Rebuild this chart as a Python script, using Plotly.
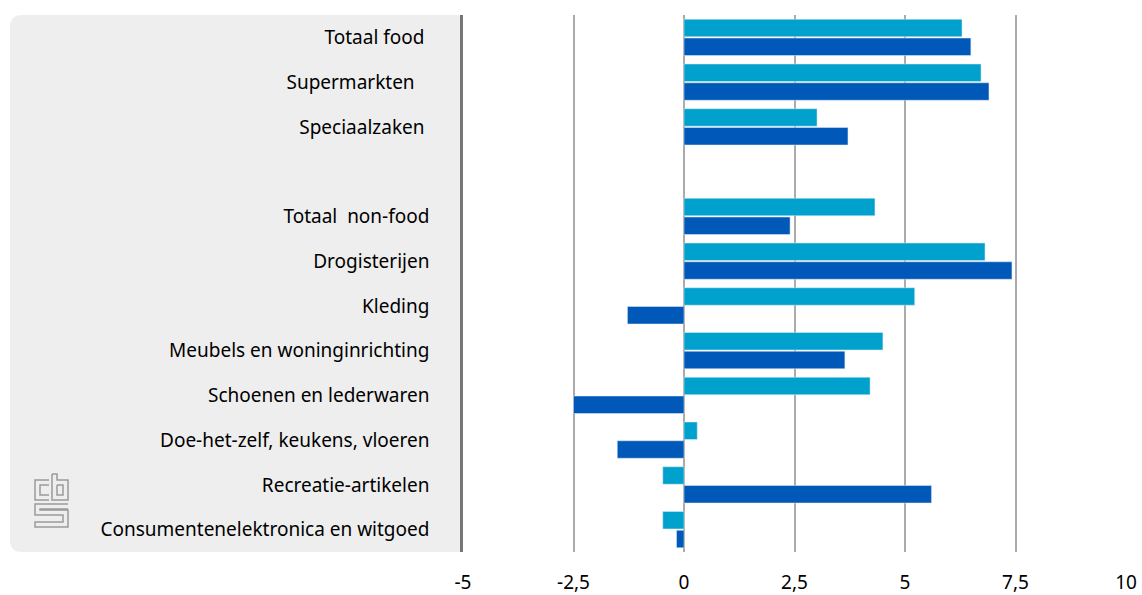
import plotly.graph_objects as go

categories = [
    "Totaal food\u00a0", "Supermarkten\u00a0\u00a0\u00a0", "Speciaalzaken\u00a0", " ",
    "Totaal  non-food", "Drogisterijen", "Kleding",
    "Meubels en woninginrichting", "Schoenen en lederwaren",
    "Doe-het-zelf, keukens, vloeren", "Recreatie-artikelen",
    "Consumentenelektronica en witgoed",
]
series_a = [6.29, 6.72, 3.01, None, 4.32, 6.81, 5.22, 4.50, 4.21, 0.30, -0.48, -0.48]
series_b = [6.49, 6.90, 3.71, None, 2.40, 7.42, -1.28, 3.64, -2.50, -1.51, 5.60, -0.17]
x_tickvals = [-5, -2.5, 0, 2.5, 5, 7.5, 10]
x_ticktext = ["-5", "-2,5", "0", "2,5", "5", "7,5", "10"]

LIGHT = "#00A1CD"
DARK = "#0058B8"
FONT = "Noto Sans"

W, H = 1142, 595
L, R, T, B = 463, 16, 15, 43
pw, ph = W - L - R, H - T - B

def px(x):
    return (x - L) / pw

def py(y):
    return (H - B - y) / ph

fig = go.Figure()
fig.add_trace(go.Bar(y=categories, x=series_a, orientation="h", marker_color=LIGHT,
                     name="Reeks 1", showlegend=False))
fig.add_trace(go.Bar(y=categories, x=series_b, orientation="h", marker_color=DARK,
                     name="Reeks 2", showlegend=False))

shapes = []
r = 12
x0, x1, y0, y1 = 10, 463, 15, 552
path = (f"M {px(x1)},{py(y0)} L {px(x0 + r)},{py(y0)} "
        f"Q {px(x0)},{py(y0)} {px(x0)},{py(y0 + r)} "
        f"L {px(x0)},{py(y1 - r)} Q {px(x0)},{py(y1)} {px(x0 + r)},{py(y1)} "
        f"L {px(x1)},{py(y1)} Z")
shapes.append(dict(type="path", xref="paper", yref="paper", path=path,
                   fillcolor="#EEEEEE", line=dict(width=0), layer="below"))

lc = "#9A9A9A"
def seg(pts):
    d = "M " + " L ".join(f"{px(a)},{py(b)}" for a, b in pts)
    shapes.append(dict(type="path", xref="paper", yref="paper", path=d,
                       line=dict(color=lc, width=1.5)))
# c
seg([(49, 480), (35, 480), (35, 500), (49, 500)])
seg([(49, 485), (40, 485), (40, 495), (49, 495)])
# b
seg([(52, 474), (57, 474), (57, 480), (68, 480), (68, 500), (52, 500), (52, 474)])
seg([(57, 485), (63, 485), (63, 495), (57, 495), (57, 485)])
# s
seg([(68, 504), (35, 504), (35, 515), (63, 515), (63, 522), (35, 522), (35, 527), (68, 527),
     (68, 510), (40, 510), (40, 509), (68, 509)])

fig.update_layout(
    shapes=shapes,
    width=W, height=H,
    margin=dict(l=L, r=R, t=T, b=B, autoexpand=False),
    paper_bgcolor="white", plot_bgcolor="white",
    barmode="group", bargap=0.16, bargroupgap=0.07,
    font=dict(family=FONT, size=19, color="#000000"),
    xaxis=dict(range=[-5, 10], tickvals=x_tickvals, ticktext=x_ticktext,
               showgrid=True, gridcolor="#ABABAB", gridwidth=1.5, automargin=False,
               zeroline=False, showline=False, ticks="", ticklabelstandoff=17,
               tickfont=dict(family=FONT, size=19)),
    yaxis=dict(type="category", categoryorder="array", categoryarray=categories,
               autorange="reversed", showgrid=False, zeroline=False, automargin=False,
               showline=True, linecolor="#767676", linewidth=2.5, ticks="",
               ticklabelstandoff=27, tickfont=dict(family=FONT, size=19)),
)

fig.write_html(
    "out.html",
    config={"displayModeBar": False},
    post_script="document.body.style.margin='0';document.body.style.overflow='hidden';",
)
